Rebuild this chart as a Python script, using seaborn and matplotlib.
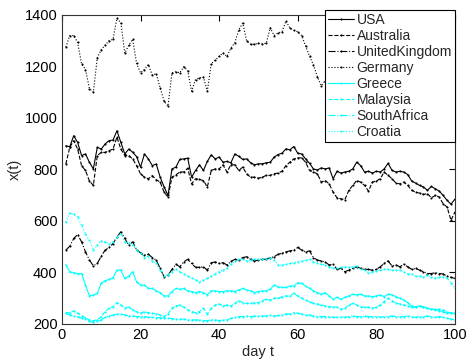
import numpy as np
import pandas as pd
import seaborn as sns
import matplotlib
matplotlib.use("Agg")
import matplotlib.pyplot as plt

days = np.arange(1, 101)

usa = [892, 888, 931, 905, 854, 860, 828, 802, 886, 879, 899, 912, 914, 950, 905, 860, 879, 867, 850, 809,
       860, 841, 815, 821, 770, 732, 699, 802, 809, 839, 841, 844, 770, 796, 818, 796, 831, 857, 841, 848,
       828, 831, 826, 860, 851, 839, 841, 826, 818, 822, 822, 826, 828, 848, 858, 863, 880, 876, 889, 863,
       860, 841, 824, 802, 798, 806, 802, 806, 764, 793, 786, 790, 793, 802, 828, 815, 790, 793, 786, 793,
       790, 802, 824, 796, 790, 793, 790, 780, 755, 747, 738, 732, 719, 734, 725, 716, 699, 680, 665, 685]
australia = [821, 886, 912, 879, 815, 796, 755, 738, 854, 866, 866, 873, 879, 925, 879, 854, 854, 841, 815, 783,
             770, 764, 776, 760, 751, 712, 693, 770, 779, 790, 790, 805, 744, 764, 761, 757, 732, 796, 802, 802,
             818, 790, 818, 818, 796, 809, 783, 770, 770, 766, 770, 777, 777, 783, 786, 793, 815, 828, 841, 845,
             845, 828, 796, 790, 783, 751, 757, 744, 712, 690, 686, 683, 719, 738, 757, 751, 738, 716, 751, 755,
             764, 790, 777, 764, 747, 744, 751, 738, 719, 712, 708, 703, 706, 690, 699, 693, 667, 654, 603, 635]
uk = [487, 502, 532, 547, 519, 480, 448, 426, 435, 463, 487, 497, 512, 538, 558, 532, 506, 519, 489, 476,
      467, 471, 458, 448, 416, 383, 390, 412, 432, 422, 441, 451, 435, 420, 420, 422, 409, 438, 441, 435,
      438, 429, 443, 451, 447, 458, 461, 451, 445, 448, 451, 451, 458, 461, 471, 474, 480, 484, 487, 497,
      487, 480, 484, 458, 448, 445, 441, 429, 432, 412, 416, 403, 409, 416, 422, 416, 412, 412, 409, 412,
      422, 435, 445, 425, 429, 422, 432, 422, 412, 416, 409, 403, 396, 396, 399, 396, 394, 386, 381, 377]
# Germany disappears behind the legend after day 68
germany = [1275, 1320, 1320, 1293, 1210, 1188, 1114, 1100, 1233, 1265, 1282, 1300, 1305, 1387, 1369, 1251, 1282,
           1305, 1212, 1175, 1188, 1207, 1166, 1172, 1117, 1065, 1046, 1175, 1179, 1175, 1199, 1184, 1104, 1149,
           1155, 1159, 1104, 1211, 1224, 1239, 1252, 1239, 1271, 1292, 1342, 1368, 1300, 1286, 1286, 1290, 1288,
           1290, 1350, 1320, 1330, 1335, 1376, 1350, 1340, 1335, 1320, 1280, 1240, 1205, 1160, 1125, 1144, 1118]
greece = [429, 403, 399, 396, 396, 351, 309, 313, 319, 358, 368, 373, 380, 409, 409, 377, 386, 403, 364, 351,
          351, 338, 338, 329, 322, 309, 309, 326, 338, 335, 338, 329, 326, 322, 326, 322, 313, 329, 329, 326,
          326, 329, 329, 326, 332, 338, 332, 329, 322, 326, 328, 329, 335, 351, 345, 342, 342, 347, 347, 360,
          358, 347, 338, 329, 322, 316, 322, 309, 296, 304, 296, 304, 309, 316, 313, 316, 309, 309, 306, 309,
          313, 306, 316, 313, 306, 300, 293, 283, 270, 267, 270, 267, 261, 257, 257, 252, 248, 242, 244, 242]
malaysia = [244, 244, 251, 242, 231, 225, 216, 213, 216, 229, 248, 261, 267, 283, 274, 261, 267, 255, 248, 242,
            248, 244, 242, 239, 235, 229, 239, 261, 270, 274, 265, 255, 248, 244, 248, 261, 239, 261, 274, 278,
            270, 274, 270, 280, 291, 283, 280, 280, 283, 283, 291, 296, 293, 300, 300, 306, 309, 309, 319, 309,
            300, 293, 287, 280, 278, 274, 270, 267, 267, 265, 257, 261, 274, 280, 274, 267, 265, 265, 261, 265,
            274, 287, 300, 291, 280, 278, 274, 270, 265, 265, 270, 265, 261, 257, 255, 257, 255, 248, 242, 239]
south_africa = [242, 235, 231, 229, 222, 219, 210, 206, 210, 216, 226, 231, 235, 239, 239, 235, 231, 231, 229, 229,
                229, 226, 226, 225, 225, 222, 222, 221, 219, 219, 219, 216, 216, 216, 216, 213, 213, 216, 216, 213,
                216, 216, 222, 226, 229, 229, 231, 229, 231, 231, 231, 231, 235, 231, 233, 235, 239, 239, 244, 242,
                239, 235, 235, 231, 229, 229, 229, 229, 226, 226, 229, 226, 229, 231, 229, 229, 231, 229, 229, 229,
                226, 229, 229, 231, 229, 229, 229, 231, 229, 226, 229, 229, 231, 229, 226, 229, 226, 222, 219, 216]
croatia = [596, 631, 626, 615, 583, 551, 525, 487, 506, 523, 519, 512, 519, 538, 551, 519, 515, 506, 487, 474,
           458, 463, 445, 435, 409, 386, 390, 403, 412, 403, 396, 386, 377, 371, 364, 371, 377, 386, 396, 403,
           409, 416, 432, 443, 453, 451, 445, 448, 451, 451, 454, 451, 458, 448, 429, 429, 432, 435, 438, 441,
           445, 448, 451, 441, 435, 432, 429, 422, 416, 416, 420, 422, 420, 422, 425, 412, 409, 399, 403, 407,
           409, 412, 412, 409, 409, 409, 403, 394, 396, 386, 386, 384, 390, 381, 377, 381, 384, 377, 360, 338]

names = ["USA", "Australia", "UnitedKingdom", "Germany", "Greece", "Malaysia", "SouthAfrica", "Croatia"]
series = [usa, australia, uk, germany, greece, malaysia, south_africa, croatia]
colors = ["black"] * 4 + ["#00ffff"] * 4
styles = ["-", "--", "-.", ":"] * 2

sns.set_style("white")
plt.rcParams["font.family"] = ["Liberation Sans", "DejaVu Sans"]

fig = plt.figure(figsize=(4.69, 3.59), dpi=100)
ax = fig.add_axes([0.132, 0.0975, 0.838, 0.861])

for name, vals, col, ls in zip(names, series, colors, styles):
    sns.lineplot(x=days[:len(vals)], y=vals, ax=ax, color=col, linestyle=ls,
                 linewidth=0.8, marker=".", markersize=3, markeredgewidth=0,
                 label=name, estimator=None)

ax.set_xlim(0, 100)
ax.set_ylim(200, 1400)
ax.set_xticks(range(0, 101, 20))
ax.set_yticks(range(200, 1401, 200))
ax.tick_params(direction="in", top=True, right=True, length=4, width=0.8,
               labelsize=10.5, colors="black", pad=3)
for sp in ax.spines.values():
    sp.set_color("#333333")
    sp.set_linewidth(0.8)
ax.set_xlabel("day t", fontsize=10.5, labelpad=2)
ax.set_ylabel("x(t)", fontsize=10.5, labelpad=2)

leg = ax.legend(loc="upper right", bbox_to_anchor=(455 / 469, 1 - 10 / 359),
                bbox_transform=fig.transFigure, borderaxespad=0, fontsize=10,
                frameon=True, fancybox=False, framealpha=1, edgecolor="black",
                handlelength=1.9, handletextpad=0.15, labelspacing=0.14, borderpad=0.22)
leg.get_frame().set_linewidth(0.8)

fig.savefig("out.png", dpi=100)
plt.close(fig)
